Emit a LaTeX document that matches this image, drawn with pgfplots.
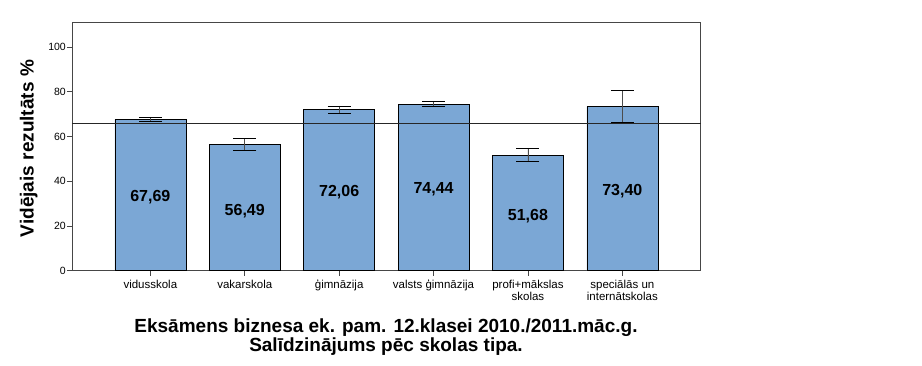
\documentclass[border=0pt]{standalone}
\usepackage{pgfplots}
\pgfplotsset{compat=1.18}
\usepackage{fontspec}
\setmainfont{Liberation Sans}
\definecolor{barblue}{RGB}{123,167,213}
\definecolor{axgray}{RGB}{70,70,70}
\begin{document}
\begin{tikzpicture}[x=1pt,y=1pt]
\path[use as bounding box] (0,0) rectangle (922,366);
\begin{axis}[
  at={(72pt,95.3pt)}, anchor=south west,
  scale only axis, width=628.7pt, height=248.7pt,
  xmin=-0.83, xmax=5.83, ymin=0, ymax=111.2,
  xtick={0,1,2,3,4,5},
  xticklabels={vidusskola,vakarskola,ģimnāzija,valsts ģimnāzija,{profi+mākslas\\skolas},{speciālās un\\internātskolas}},
  xticklabel style={align=center, font=\fontsize{11.5}{12}\selectfont, inner sep=1pt, yshift=-3pt},
  ytick={0,20,40,60,80,100},
  yticklabel style={font=\fontsize{10.5}{11}\selectfont, inner sep=1pt},
  /pgf/number format/assume math mode=true,
  tick align=outside, tick pos=left,
  major tick length=5pt,
  every tick/.style={axgray, line width=0.8pt},
  axis line style={axgray, line width=0.9pt},
  ylabel={Vidējais rezultāts \%},
  ylabel style={font=\bfseries\fontsize{19}{21}\selectfont, at={(axis description cs:-0.0689,0.491)}, anchor=center, rotate=0},
  clip=false,
]
\addplot[ybar, bar width=71pt, fill=barblue, draw=black, line width=0.7pt,
  error bars/.cd, y dir=both, y explicit,
  error bar style={line width=0.8pt, color=black!70},
  error mark options={rotate=90, mark size=11.5pt, line width=0.8pt, black}]
  coordinates {
  (0,67.69) +- (0,0.85)
  (1,56.49) +- (0,2.7)
  (2,72.06) +- (0,1.6)
  (3,74.44) +- (0,1.1)
  (4,51.68) +- (0,2.9)
  (5,73.40) +- (0,7.15)
  };
\addplot[black!85, line width=0.8pt] coordinates {(-0.83,66.0) (5.83,66.0)};
\addplot[draw=none, mark=none, nodes near coords, point meta=explicit symbolic,
  every node near coord/.append style={anchor=center, font=\bfseries\fontsize{16}{18}\selectfont, black}]
  coordinates {
  (0,32.8) [67,69]
  (1,26.8) [56,49]
  (2,35.0) [72,06]
  (3,36.2) [74,44]
  (4,24.6) [51,68]
  (5,35.7) [73,40]
  };
\end{axis}
\node[anchor=base, font=\bfseries\fontsize{19}{21}\selectfont] at (386,33) {Eksāmens biznesa ek. pam. 12.klasei 2010./2011.māc.g.};
\node[anchor=base, font=\bfseries\fontsize{19}{21}\selectfont] at (386,14) {Salīdzinājums pēc skolas tipa.};
\end{tikzpicture}
\end{document}
